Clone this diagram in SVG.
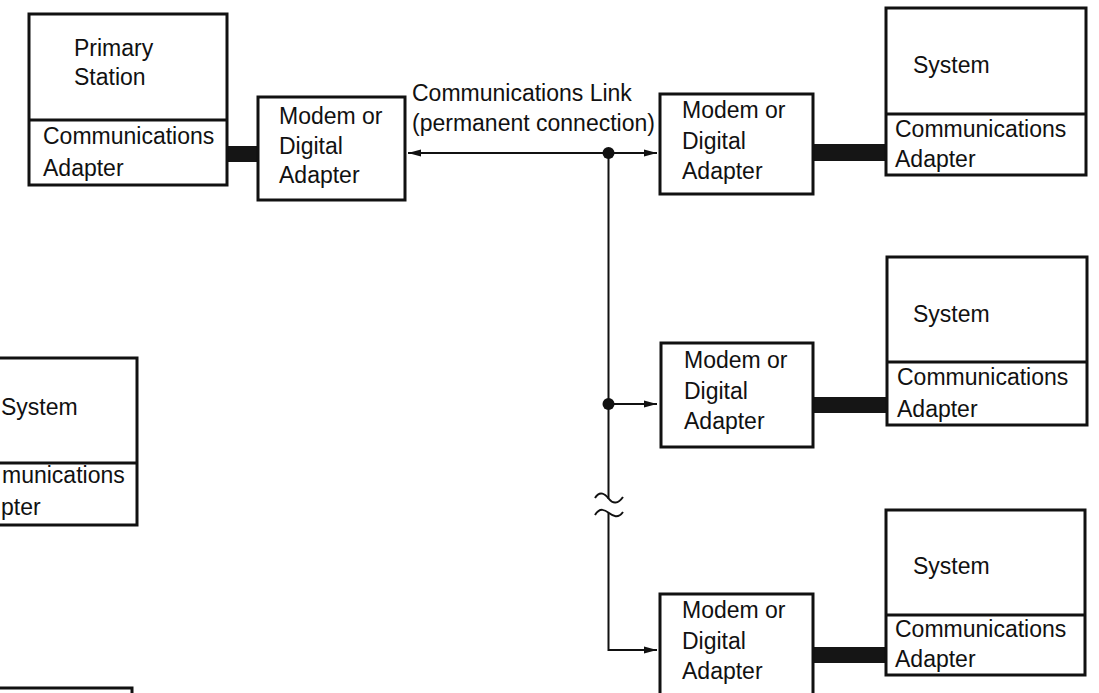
<svg xmlns="http://www.w3.org/2000/svg" width="1099" height="693" viewBox="0 0 1099 693">
<defs>
<style>
.box{fill:#fff;stroke:#111;stroke-width:3}
.div{stroke:#111;stroke-width:3}
.bar{fill:#151515}
.ln{fill:none;stroke:#111;stroke-width:2}
text{font-family:"Liberation Sans",Arial,sans-serif;font-size:23px;fill:#111}
</style>
<marker id="ah" markerUnits="userSpaceOnUse" markerWidth="13" markerHeight="8" refX="13" refY="4" orient="auto-start-reverse">
<path d="M0,0.5 L13,4 L0,7.5 z" fill="#111"/>
</marker>
</defs>
<rect width="1099" height="693" fill="#fff"/>

<g id="connectors">
<rect class="bar" x="226" y="146" width="33" height="16"/>
<rect class="bar" x="812" y="144" width="75" height="17"/>
<rect class="bar" x="812" y="397" width="76" height="16"/>
<rect class="bar" x="812" y="647" width="75" height="16"/>
<line class="ln" x1="408" y1="153" x2="657" y2="153" marker-start="url(#ah)" marker-end="url(#ah)"/>
<path class="ln" d="M608.5,153 V499"/>
<path class="ln" d="M595,498 C600,490 605,494 609,499 S618,504 623,497"/>
<path class="ln" d="M595,515 C600,507 605,510 609,513 S618,519 623,512"/>
<path class="ln" d="M608.5,513 V650 H657" marker-end="url(#ah)"/>
<line class="ln" x1="608.5" y1="404" x2="657" y2="404" marker-end="url(#ah)"/>
<circle cx="608.5" cy="153" r="6" fill="#111"/>
<circle cx="608.5" cy="404" r="6" fill="#111"/>
<text x="412" y="101">Communications Link</text>
<text x="412" y="131">(permanent connection)</text>
</g>

<g id="primary-station">
<rect class="box" x="29" y="14" width="198" height="171"/>
<line class="div" x1="29" y1="120" x2="227" y2="120"/>
<text x="74" y="56">Primary</text>
<text x="74" y="85">Station</text>
<text x="43" y="144">Communications</text>
<text x="43" y="176">Adapter</text>
</g>

<g id="modem-primary">
<rect class="box" x="258" y="97" width="147" height="103"/>
<text x="279" y="124">Modem or</text>
<text x="279" y="154">Digital</text>
<text x="279" y="183">Adapter</text>
</g>

<g id="modem-1">
<rect class="box" x="660" y="94" width="153" height="100"/>
<text x="682" y="118">Modem or</text>
<text x="682" y="149">Digital</text>
<text x="682" y="179">Adapter</text>
</g>

<g id="system-1">
<rect class="box" x="886" y="8" width="200" height="167"/>
<line class="div" x1="886" y1="114" x2="1086" y2="114"/>
<text x="913" y="73">System</text>
<text x="895" y="137">Communications</text>
<text x="895" y="167">Adapter</text>
</g>

<g id="modem-2">
<rect class="box" x="661" y="343" width="152" height="104"/>
<text x="684" y="368">Modem or</text>
<text x="684" y="399">Digital</text>
<text x="684" y="429">Adapter</text>
</g>

<g id="system-2">
<rect class="box" x="887" y="257" width="200" height="168"/>
<line class="div" x1="887" y1="362" x2="1087" y2="362"/>
<text x="913" y="322">System</text>
<text x="897" y="385">Communications</text>
<text x="897" y="417">Adapter</text>
</g>

<g id="modem-3">
<rect class="box" x="660" y="594" width="153" height="110"/>
<text x="682" y="618">Modem or</text>
<text x="682" y="649">Digital</text>
<text x="682" y="679">Adapter</text>
</g>

<g id="system-3">
<rect class="box" x="886" y="510" width="199" height="165"/>
<line class="div" x1="886" y1="615" x2="1085" y2="615"/>
<text x="913" y="574">System</text>
<text x="895" y="637">Communications</text>
<text x="895" y="667">Adapter</text>
</g>

<g id="system-left">
<rect class="box" x="-62" y="358" width="199" height="167"/>
<line class="div" x1="-62" y1="463" x2="137" y2="463"/>
<text x="1" y="415">System</text>
<text x="2" y="483">munications</text>
<text x="1" y="515">pter</text>
</g>

<g id="box-bottom-left">
<rect class="box" x="-70" y="688" width="202" height="40"/>
</g>
</svg>
